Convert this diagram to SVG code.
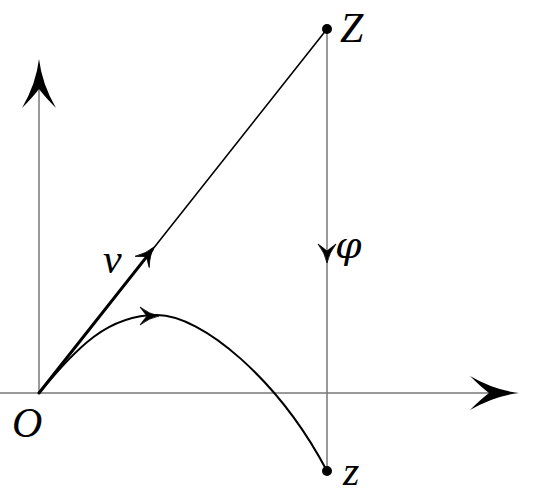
<svg xmlns="http://www.w3.org/2000/svg" xmlns:xlink="http://www.w3.org/1999/xlink" width="535" height="499" viewBox="0 0 535 499">
<style>
.ax{stroke:#777;stroke-width:1.5;fill:none}
.ln{stroke:#000;fill:none;stroke-linecap:round}
.lbl{font-family:"Liberation Serif","DejaVu Serif",serif;font-style:italic;font-size:42px;fill:#000}
.phi{font-family:"DejaVu Serif","Liberation Serif",serif;font-style:italic;font-size:38px;fill:#000}
.ah{fill:#000}
.sah{fill:#000;stroke:#000;stroke-width:0.8;stroke-linejoin:round}
</style>
<defs>
<path id="ah" d="M0,0 Q-25,-3 -49,-17 Q-38,-6 -30,0 Q-38,6 -49,17 Q-25,3 0,0 Z"/>
<path id="sah" d="M0,0 Q-10,-2 -19,-9 Q-15,-3.5 -12,0 Q-15,3.5 -19,9 Q-10,2 0,0 Z"/>
</defs>
<g id="connectors">
<line class="ax" x1="0" y1="393" x2="505" y2="393"/>
<line class="ax" x1="39" y1="393" x2="39" y2="75"/>
<line class="ax" x1="327" y1="29" x2="327" y2="471"/>
<line class="ln" x1="39" y1="393" x2="327" y2="29" style="stroke-width:1.6"/>
<line class="ln" x1="39" y1="393" x2="152" y2="250" style="stroke-width:3"/>
<path class="ln" d="M39,393 C78,347 107,315 157,315 C202,315 279,380 327,471" style="stroke-width:2"/>
<use class="ah" xlink:href="#ah" transform="translate(519,393)"/>
<use class="ah" xlink:href="#ah" transform="translate(39,59) rotate(-90)"/>
<use class="sah" xlink:href="#sah" transform="translate(154,247) rotate(-51.55)"/>
<use class="sah" xlink:href="#sah" transform="translate(327,263) rotate(90)"/>
<use class="sah" xlink:href="#sah" transform="translate(159,316)"/>
</g>
<g id="node-O"><text class="lbl" x="12" y="437">O</text></g>
<g id="node-Z"><circle cx="327" cy="29" r="5"/><text class="lbl" x="340" y="42">Z</text></g>
<g id="node-z"><circle cx="327" cy="471" r="5"/><text class="lbl" x="343" y="485">z</text></g>
<g id="label-v"><text class="lbl" x="103" y="273">v</text></g>
<g id="label-phi"><text class="phi" x="335" y="258">φ</text></g>
</svg>
